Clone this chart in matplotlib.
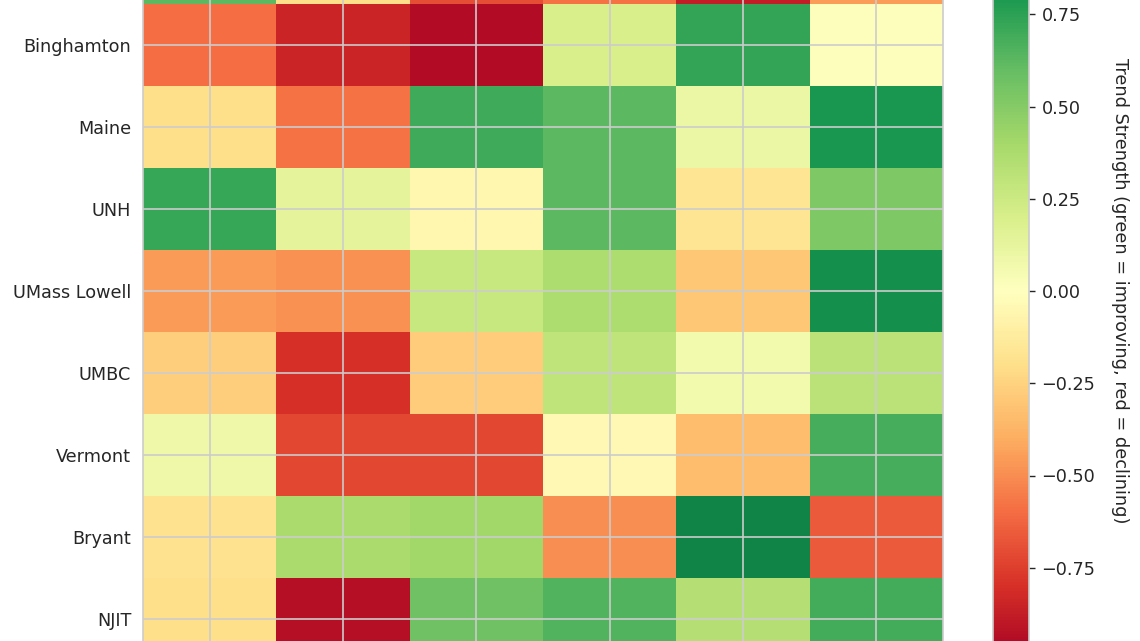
import matplotlib
matplotlib.use("Agg")
import matplotlib.pyplot as plt
import numpy as np

teams = ["Albany", "Binghamton", "Maine", "UNH", "UMass Lowell", "UMBC",
         "Vermont", "Bryant", "NJIT"]
metrics = ["Win %", "Offense", "Defense", "Rebounding", "Turnovers", "3PT %"]

albany      = [0.62, -0.20, -0.70, -0.58, -0.88, -0.45]
binghamton  = [-0.60, -0.85, -0.95, 0.20, 0.73, 0.01]
maine       = [-0.20, -0.58, 0.70, 0.62, 0.10, 0.80]
unh         = [0.72, 0.14, -0.06, 0.62, -0.17, 0.52]
umass_lowell = [-0.46, -0.49, 0.27, 0.37, -0.30, 0.83]
umbc        = [-0.27, -0.80, -0.28, 0.30, 0.07, 0.32]
vermont     = [0.09, -0.72, -0.72, -0.04, -0.34, 0.68]
bryant      = [-0.18, 0.38, 0.41, -0.50, 0.88, -0.66]
njit        = [-0.20, -0.93, 0.57, 0.65, 0.34, 0.69]

values = np.array([albany, binghamton, maine, unh, umass_lowell, umbc,
                   vermont, bryant, njit])

W, H = 1140, 641
fig = plt.figure(figsize=(W / 100, H / 100), dpi=100)
fig.patch.set_facecolor("white")

top_px, bot_px = -78, 660
ax_bottom = 1 - bot_px / H
ax_height = (bot_px - top_px) / H
ax = fig.add_axes([143 / W, ax_bottom, 800 / W, ax_height])
cax = fig.add_axes([993 / W, ax_bottom, 36 / W, ax_height])

nrow, ncol = values.shape
mesh = ax.pcolormesh(np.arange(ncol + 1) - 0.5, np.arange(nrow + 1) - 0.5,
                     values, cmap="RdYlGn", vmin=-1, vmax=1, zorder=1)
ax.set_xlim(-0.5, ncol - 0.5)
ax.set_ylim(nrow - 0.5, -0.5)
ax.set_xticks(range(ncol))
ax.set_xticklabels(metrics)
ax.set_yticks(range(nrow))
ax.set_yticklabels(teams)
ax.tick_params(axis="both", length=0, labelsize=12.7, colors="#262626", pad=8.5)
ax.set_axisbelow(False)
ax.grid(True, color="#cccccc", linewidth=1.2, zorder=3)
for s in ax.spines.values():
    s.set_color("#cccccc")
    s.set_linewidth(1.2)
ax.set_title("America East Trend Strength by Metric", fontsize=14)

cb = fig.colorbar(mesh, cax=cax)
cb.set_ticks([-0.75, -0.5, -0.25, 0, 0.25, 0.5, 0.75])
cb.ax.tick_params(labelsize=12.7, colors="#262626", length=4, width=1,
                  color="#262626", pad=5)
cb.outline.set_edgecolor("#cccccc")
cb.outline.set_linewidth(1.2)
cb.set_label("Trend Strength (green = improving, red = declining)",
             rotation=270, labelpad=24, fontsize=12.8, color="#262626")

fig.savefig("out.png", dpi=100)
